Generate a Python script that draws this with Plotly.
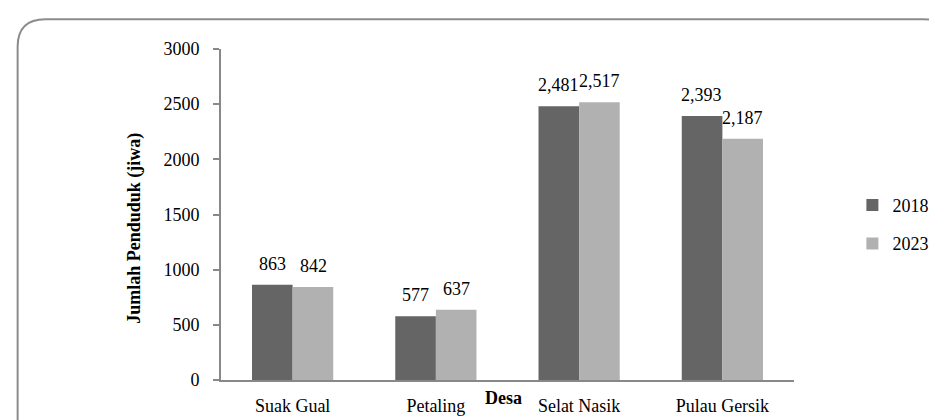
import plotly.graph_objects as go

categories = ["Suak Gual", "Petaling", "Selat Nasik", "Pulau Gersik"]
values_2018 = [863, 577, 2481, 2393]
values_2023 = [842, 637, 2517, 2187]
series_names = ["2018", "2023"]
colors = ["#656565", "#b1b1b1"]
y_ticks = [0, 500, 1000, 1500, 2000, 2500, 3000]

W, H = 937, 420
L, R, T, B = 213, 145, 41, 41
pw, ph = W - L - R, H - T - B

def px(x):
    return (x - L) / pw

def py(y):
    return (H - B - y) / ph

FONT = "Liberation Serif, Times New Roman, serif"
FS = 18

fig = go.Figure()
for name, vals, col in zip(series_names, [values_2018, values_2023], colors):
    fig.add_trace(go.Bar(
        x=categories, y=vals, name=name, marker=dict(color=col, line=dict(width=0)),
        legendgroup=name,
    ))

# data labels
for vals, shift in [(values_2018, -20.5), (values_2023, 20.5)]:
    for c, v in zip(categories, vals):
        fig.add_annotation(x=c, y=v, xref="x", yref="y", text=f"{v:,}", showarrow=False,
                           xshift=shift, yshift=9, yanchor="bottom",
                           font=dict(family=FONT, size=FS, color="black"))

# axis titles
fig.add_annotation(x=px(113), y=py(224), xref="paper", yref="paper", text="<b>Jumlah Penduduk (jiwa)</b>",
                   textangle=-90, showarrow=False, font=dict(family=FONT, size=FS, color="black"))
fig.add_annotation(x=px(498), y=py(410), xref="paper", yref="paper", text="<b>Desa</b>",
                   showarrow=False, font=dict(family=FONT, size=FS, color="black"))

# rounded frame
x0, x1, y0, y1, r = 7.5, 950, 10.5, 440, 28
path = (f"M {px(x0)},{py(y1)} L {px(x0)},{py(y0 + r)} Q {px(x0)},{py(y0)} {px(x0 + r)},{py(y0)} "
        f"L {px(x1 - r)},{py(y0)} Q {px(x1)},{py(y0)} {px(x1)},{py(y0 + r)} L {px(x1)},{py(y1)}")
fig.add_shape(type="path", path=path, xref="paper", yref="paper",
              line=dict(color="#8c8c8c", width=2))

fig.update_layout(
    width=W, height=H,
    margin=dict(l=L, r=R, t=T, b=B),
    plot_bgcolor="white", paper_bgcolor="white",
    barmode="group", bargap=0.433, bargroupgap=0,
    font=dict(family=FONT, size=FS, color="black"),
    showlegend=True,
    legend=dict(x=px(851), y=py(220), xanchor="left", yanchor="middle",
                traceorder="grouped", tracegroupgap=12,
                font=dict(family=FONT, size=FS, color="black"),
                itemwidth=30, bgcolor="rgba(0,0,0,0)"),
    xaxis=dict(showline=True, linecolor="#888888", linewidth=2, ticks="", showgrid=False,
               ticklabelstandoff=8, tickfont=dict(family=FONT, size=FS)),
    yaxis=dict(range=[0, 3000], tickvals=y_ticks, showline=True, linecolor="#888888", linewidth=2,
               ticks="outside", ticklen=6, tickcolor="#888888", tickwidth=2, showgrid=False,
               zeroline=False, ticklabelstandoff=10, tickfont=dict(family=FONT, size=FS)),
)

fig.write_html("out.html")
